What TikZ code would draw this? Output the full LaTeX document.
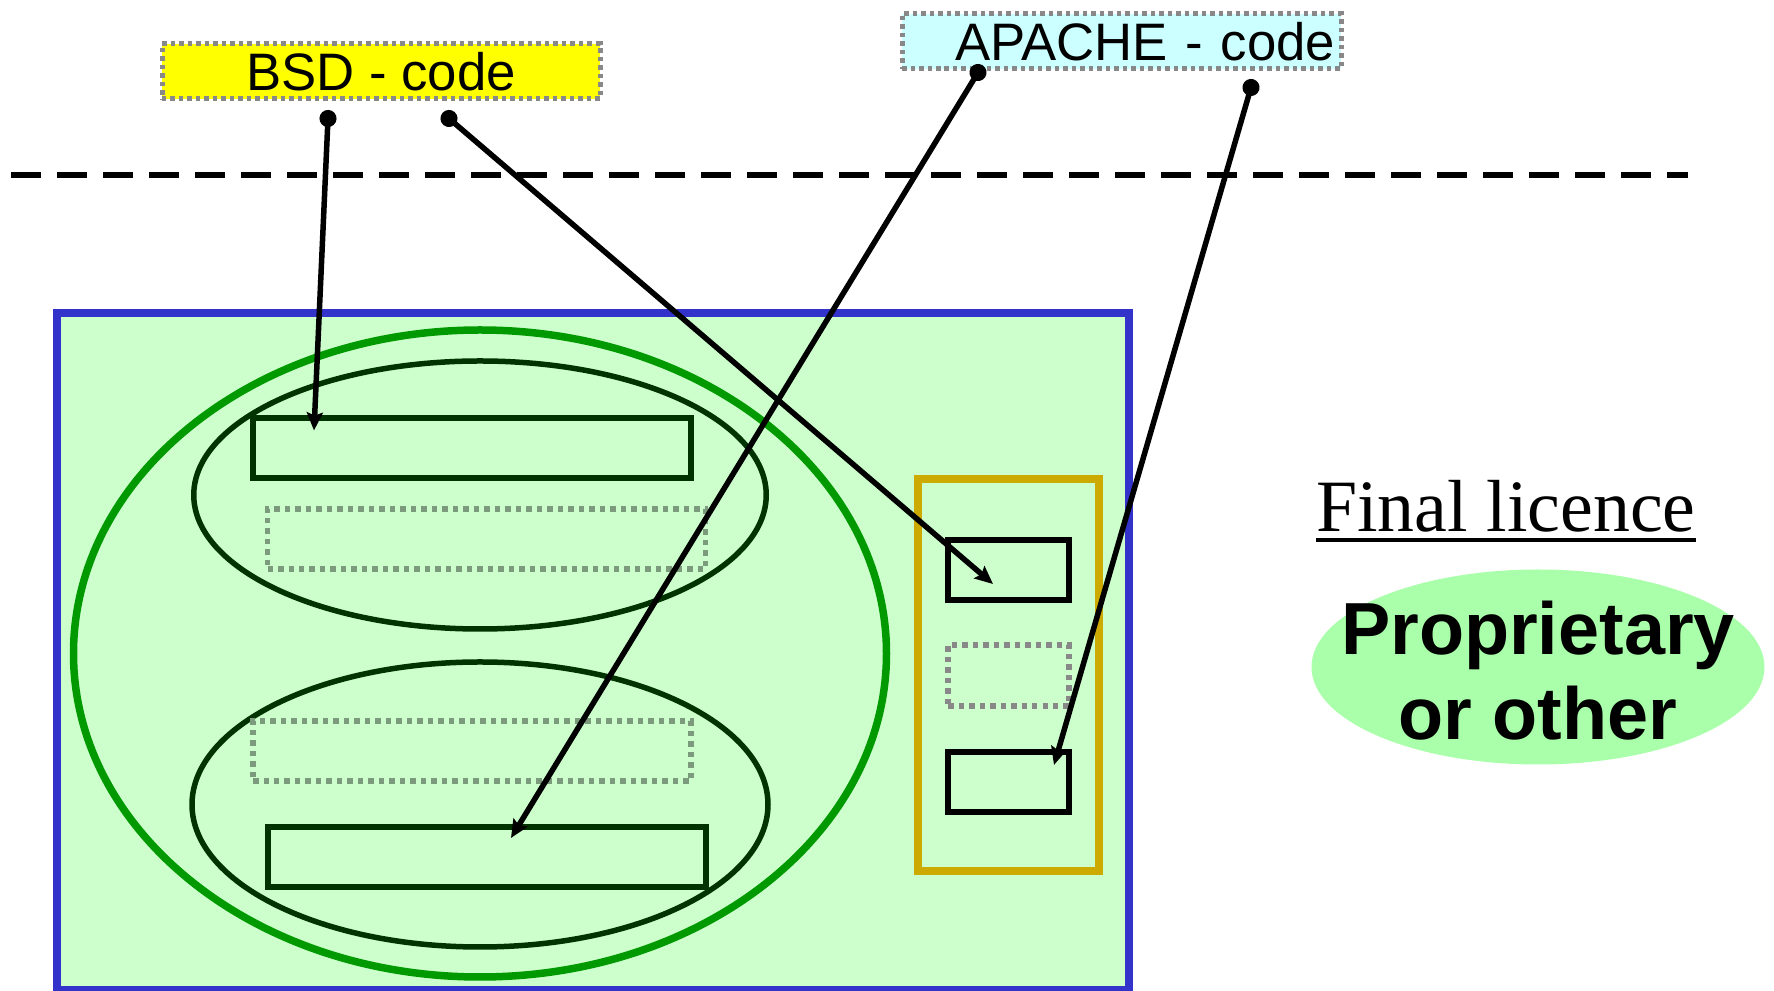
\documentclass[tikz,border=0pt]{standalone}
\usepackage{fontspec}
\setmainfont{Liberation Serif}
\setsansfont{Liberation Sans}
\usetikzlibrary{arrows.meta,shapes.geometric,calc}

\definecolor{frameblue}{HTML}{3333CC}
\definecolor{palegreen}{HTML}{CCFFCC}
\definecolor{ringgreen}{HTML}{009900}
\definecolor{darkgreen}{HTML}{003300}
\definecolor{goldline}{HTML}{CCAA00}
\definecolor{dotgray}{HTML}{888888}
\definecolor{slotgray}{HTML}{7C9A7C}
\definecolor{bsdyellow}{HTML}{FFFF00}
\definecolor{apachecyan}{HTML}{CCFFFF}
\definecolor{propgreen}{HTML}{AAFFAA}

\begin{document}
\begin{tikzpicture}[
    tag/.style={draw=dotgray, line width=.05cm, dash pattern=on .045cm off .04cm,
        minimum width=4.38cm, minimum height=.55cm, inner sep=0,
        font=\sffamily\fontsize{15pt}{18pt}\selectfont},
    frame/.style={draw=frameblue, fill=palegreen, line width=.08cm, inner sep=0,
        minimum width=10.725cm, minimum height=6.773cm},
    ring/.style={ellipse, draw=ringgreen, line width=.075cm, inner sep=0},
    group/.style={ellipse, draw=darkgreen, line width=.055cm, inner sep=0},
    part/.style={draw=darkgreen, line width=.06cm, inner sep=0,
        minimum width=4.38cm, minimum height=.6cm},
    slot/.style={draw=slotgray, line width=.055cm, dash pattern=on .055cm off .05cm,
        inner sep=0, minimum width=4.38cm, minimum height=.6cm},
    holder/.style={draw=goldline, line width=.08cm, inner sep=0,
        minimum width=1.81cm, minimum height=3.92cm},
    chunk/.style={draw=black, line width=.06cm, inner sep=0,
        minimum width=1.21cm, minimum height=.6cm},
    link/.style={draw, line width=.055cm, shorten <=-.085cm,
        {Circle[length=.17cm]}-{Stealth[length=.18cm,width=.16cm,inset=.03cm]}}
    ]
    \useasboundingbox (0,0) rectangle (17.74,-9.91);

    % Define the code sources
    \node[tag, fill=bsdyellow] (bsd) at (3.81,-.715) {BSD - code};
    \node[tag, fill=apachecyan, minimum width=0cm, text width=4.27cm, inner xsep=.06cm,
        align=right] (apache) at (11.215,-.415) {APACHE - code};

    \draw[line width=.065cm, dash pattern=on .30cm off .16cm] (.11,-1.75) -- (16.88,-1.75);

    % Define the combined work
    \node[frame] (work) at (5.9275,-6.5135) {};
    \node[ring, minimum width=8.13cm, minimum height=6.47cm] (ring) at (4.80,-6.535) {};
    \node[group, minimum width=5.725cm, minimum height=2.68cm] (grpA) at (4.80,-4.95) {};
    \node[group, minimum width=5.76cm, minimum height=2.85cm] (grpB) at (4.80,-8.045) {};
    \node[part] (r1) at (4.72,-4.485) {};
    \node[slot] (r2) at (4.865,-5.39) {};
    \node[slot] (r3) at (4.72,-7.51) {};
    \node[part] (r4) at (4.87,-8.57) {};
    \node[holder] (gold) at (10.085,-6.75) {};
    \node[chunk] (s1) at (10.085,-5.70) {};
    \node[chunk, draw=dotgray, line width=.055cm, dash pattern=on .055cm off .05cm,
        minimum height=.61cm] (s2) at (10.085,-6.755) {};
    \node[chunk] (s3) at (10.085,-7.82) {};

    % Final licence
    \node[inner sep=0, anchor=base, font=\rmfamily\fontsize{21pt}{25pt}\selectfont]
        (fin) at (15.06,-5.32) {Final licence};
    \draw[line width=.035cm] ($(fin.base west)+(0,-.08)$) -- ($(fin.base east)+(0,-.08)$);
    \node[ellipse, fill=propgreen, inner sep=0, minimum width=4.53cm,
        minimum height=1.95cm] (prop) at (15.38,-6.67) {};
    \node[align=center, inner sep=0,
        font=\sffamily\bfseries\fontsize{21pt}{24.2pt}\selectfont]
        (proptext) at ($(prop)+(0,-.04)$) {Proprietary\\or other};

    % Connect the sources with the parts
    \coordinate (bsdL) at ($(bsd.south)+(-.53,-.17)$);
    \coordinate (bsdR) at ($(bsd.south)+(.68,-.17)$);
    \coordinate (apL) at ($(apache.south)+(-1.435,-.01)$);
    \coordinate (apR) at ($(apache.south)+(1.295,-.16)$);
    \coordinate (r1tip) at ($(r1.north)+(-1.58,-.15)$);
    \coordinate (s1tip) at ($(s1.center)+(-.155,-.14)$);
    \coordinate (r4tip) at ($(r4.north)+(.24,-.14)$);
    \coordinate (s3tip) at ($(s3.center)+(.455,.17)$);

    \path (bsdL) edge[link] (r1tip)
          (bsdR) edge[link] (s1tip)
          (apL) edge[link] (r4tip)
          (apR) edge[link] (s3tip);
\end{tikzpicture}
\end{document}
